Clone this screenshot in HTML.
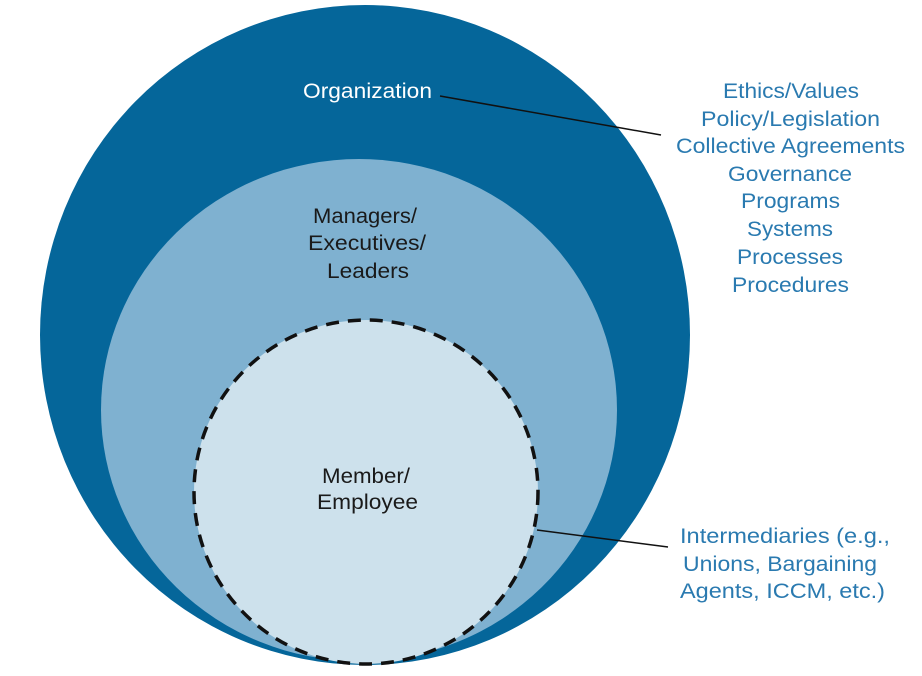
<!DOCTYPE html>
<html><head><meta charset="utf-8"><style>html,body{margin:0;padding:0;background:#fff}svg{display:block}</style></head>
<body>
<svg width="922" height="676" viewBox="0 0 922 676" xmlns="http://www.w3.org/2000/svg" font-family="'Liberation Sans', sans-serif">
<ellipse cx="365" cy="335" rx="325" ry="330" fill="#05669a"/>
<ellipse cx="359" cy="410" rx="258" ry="251" fill="#7fb1d0"/>
<circle cx="366" cy="492" r="172" fill="#cde1ec" stroke="#111" stroke-width="3.5" stroke-dasharray="13,9"/>
<line x1="440" y1="96" x2="661" y2="135" stroke="#111" stroke-width="1.5"/>
<line x1="537" y1="530" x2="668" y2="547" stroke="#111" stroke-width="1.5"/>
<text x="303" y="98" fill="#fff" font-size="21" textLength="129" lengthAdjust="spacingAndGlyphs">Organization</text>
<g fill="#1a1a1a" font-size="21" lengthAdjust="spacingAndGlyphs">
<text x="313" y="223" textLength="104" lengthAdjust="spacingAndGlyphs">Managers/</text>
<text x="308" y="250" textLength="118" lengthAdjust="spacingAndGlyphs">Executives/</text>
<text x="327" y="278" textLength="82" lengthAdjust="spacingAndGlyphs">Leaders</text>
<text x="322" y="483" textLength="88" lengthAdjust="spacingAndGlyphs">Member/</text>
<text x="317" y="509" textLength="101" lengthAdjust="spacingAndGlyphs">Employee</text>
</g>
<g fill="#2a7ab0" font-size="21">
<text x="723" y="98" textLength="136" lengthAdjust="spacingAndGlyphs">Ethics/Values</text>
<text x="701" y="126" textLength="179" lengthAdjust="spacingAndGlyphs">Policy/Legislation</text>
<text x="676" y="153" textLength="229" lengthAdjust="spacingAndGlyphs">Collective Agreements</text>
<text x="728" y="181" textLength="124" lengthAdjust="spacingAndGlyphs">Governance</text>
<text x="741" y="208" textLength="99" lengthAdjust="spacingAndGlyphs">Programs</text>
<text x="747" y="236" textLength="86" lengthAdjust="spacingAndGlyphs">Systems</text>
<text x="737" y="264" textLength="106" lengthAdjust="spacingAndGlyphs">Processes</text>
<text x="732" y="292" textLength="117" lengthAdjust="spacingAndGlyphs">Procedures</text>
<text x="680" y="543" textLength="210" lengthAdjust="spacingAndGlyphs">Intermediaries (e.g.,</text>
<text x="683" y="571" textLength="194" lengthAdjust="spacingAndGlyphs">Unions, Bargaining</text>
<text x="680" y="598" textLength="205" lengthAdjust="spacingAndGlyphs">Agents, ICCM, etc.)</text>
</g>
</svg>
</body></html>
